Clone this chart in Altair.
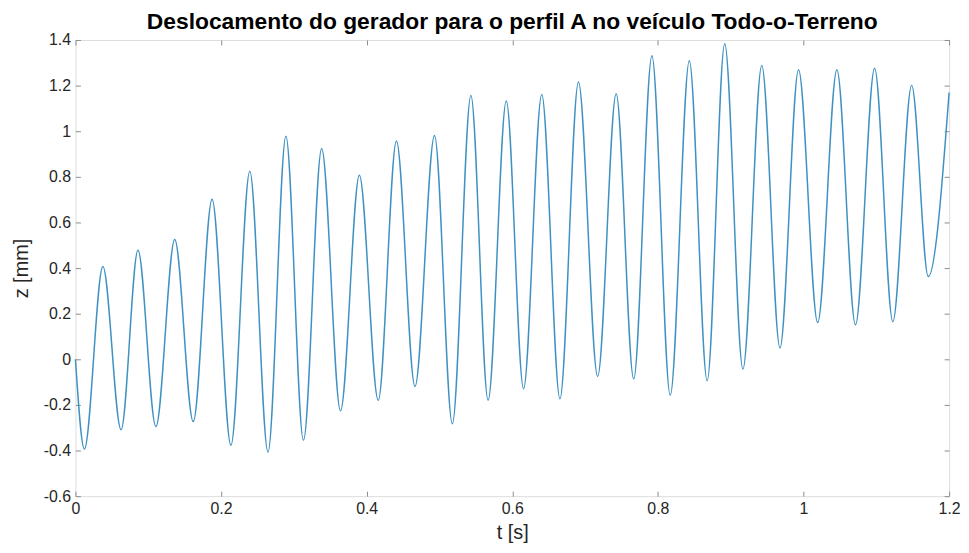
import altair as alt
import pandas as pd

# Extrema of the displacement signal (t in s, z in mm)
t_s = [0, 0.0123, 0.0377, 0.0627, 0.0859, 0.1105, 0.1364, 0.1618, 0.1877, 0.2136,
       0.2395, 0.2645, 0.2891, 0.3132, 0.3382, 0.3641, 0.3900, 0.4159, 0.4409, 0.4664,
       0.4932, 0.5177, 0.5432, 0.5668, 0.5918, 0.6155, 0.6405, 0.6655, 0.6909, 0.7173,
       0.7427, 0.7668, 0.7918, 0.8170, 0.8432, 0.8677, 0.8918, 0.9168, 0.9427, 0.9677,
       0.9932, 1.0195, 1.0459, 1.0714, 1.0977, 1.1227, 1.1486, 1.1714, 1.2]
z_mm = [0, -0.393, 0.407, -0.309, 0.478, -0.295, 0.525, -0.273, 0.702, -0.377,
        0.824, -0.407, 0.978, -0.355, 0.924, -0.226, 0.807, -0.180, 0.957, -0.119,
        0.981, -0.283, 1.157, -0.180, 1.132, -0.129, 1.161, -0.173, 1.216, -0.075,
        1.164, -0.086, 1.331, -0.158, 1.309, -0.094, 1.384, -0.043, 1.288, 0.050,
        1.269, 0.161, 1.269, 0.151, 1.276, 0.165, 1.201, 0.363, 1.17]

x_ticks = [0, 0.2, 0.4, 0.6, 0.8, 1, 1.2]
y_ticks = [-0.6, -0.4, -0.2, 0, 0.2, 0.4, 0.6, 0.8, 1, 1.2, 1.4]

title_text = "Deslocamento do gerador para o perfil A no veículo Todo-o-Terreno"
x_title = "t [s]"
y_title = "z [mm]"

df = pd.DataFrame({"t": t_s, "z": z_mm})

FONT = "Liberation Sans"
TICK_COLOR = "#8c8c8c"
LABEL_COLOR = "#262626"
LINE_COLOR = "#3f91c2"

x_scale = alt.Scale(domain=[0, 1.2], nice=False, zero=False)
y_scale = alt.Scale(domain=[-0.6, 1.4], nice=False, zero=False)

base = alt.Chart(df)

main = base.mark_line(color=LINE_COLOR, strokeWidth=1.5, interpolate="monotone").encode(
    x=alt.X("t:Q", scale=x_scale,
            axis=alt.Axis(orient="bottom", values=x_ticks, labelExpr="'' + datum.value",
                          domain=False, ticks=True, tickSize=5, offset=-5,
                          tickColor=TICK_COLOR, labelPadding=4, labelFontSize=16,
                          labelFont=FONT, labelColor=LABEL_COLOR, grid=False,
                          labelFlush=False, labelOverlap=False,
                          title=x_title, titleFont=FONT, titleFontSize=20,
                          titleFontWeight="normal", titleColor=LABEL_COLOR,
                          titlePadding=7)),
    y=alt.Y("z:Q", scale=y_scale,
            axis=alt.Axis(orient="left", values=y_ticks, labelExpr="'' + datum.value",
                          domain=False, ticks=True, tickSize=5, offset=-5,
                          tickColor=TICK_COLOR, labelPadding=5, labelFontSize=16,
                          labelFont=FONT, labelColor=LABEL_COLOR, grid=False,
                          labelFlush=False, labelOverlap=False,
                          title=y_title, titleFont=FONT, titleFontSize=20,
                          titleFontWeight="normal", titleColor=LABEL_COLOR,
                          titlePadding=12)),
)

frame = base.mark_line(strokeOpacity=0, interpolate="monotone").encode(
    x=alt.X("t:Q", scale=x_scale,
            axis=alt.Axis(orient="top", values=x_ticks, labels=False, domain=False,
                          ticks=True, tickSize=5, offset=-5, tickColor=TICK_COLOR,
                          grid=False, title=None, minExtent=0, maxExtent=0)),
    y=alt.Y("z:Q", scale=y_scale,
            axis=alt.Axis(orient="right", values=y_ticks, labels=False, domain=False,
                          ticks=True, tickSize=5, offset=-5, tickColor=TICK_COLOR,
                          grid=False, title=None, minExtent=0, maxExtent=0)),
)

chart = alt.layer(main, frame).resolve_scale(x="shared", y="shared").resolve_axis(
    x="independent", y="independent"
).properties(
    width=961,
    height=537,
    autosize=alt.AutoSizeParams(type="fit", contains="padding"),
    padding={"left": 3, "top": 1, "right": 0, "bottom": 0},
    title=alt.TitleParams(title_text, font=FONT, fontSize=23, fontWeight="bold",
                          color="#000000", anchor="middle", offset=-2),
).configure_view(stroke="#a0a0a0", strokeWidth=1).configure(background="white")

chart.save("out.html", embed_options={"renderer": "svg", "actions": False})
